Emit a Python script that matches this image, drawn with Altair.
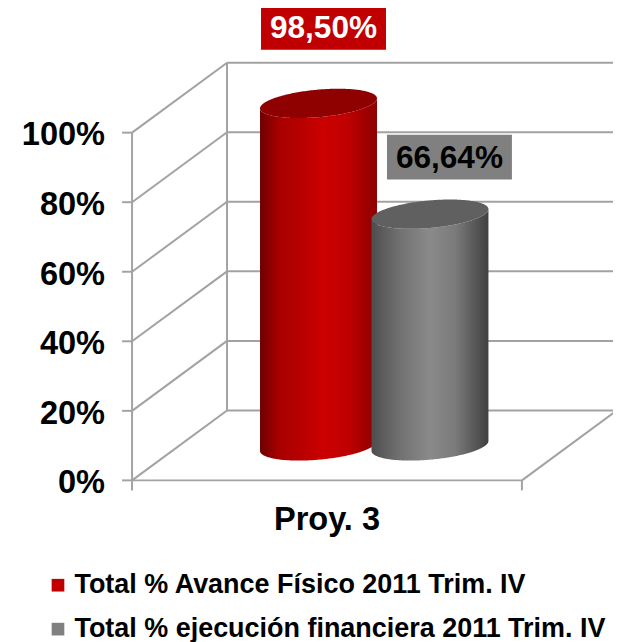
import altair as alt
import numpy as np
import pandas as pd

series = ["Total % Avance Físico 2011 Trim. IV", "Total % ejecución financiera 2011 Trim. IV"]
values = [98.50, 66.64]
value_labels = ["98,50%", "66,64%"]
category = "Proy. 3"
ticks = [0, 20, 40, 60, 80, 100]
tick_labels = ["0%", "20%", "40%", "60%", "80%", "100%"]
side_colors = ["#c00000", "#808080"]
top_colors = ["#8f0000", "#606060"]

W, H = 613, 634
SX, SY = (W + 16) / 621, (H + 16) / 642
FONT = "Liberation Sans"
PXU, PXP = 3.9, 3.48
def X(px): return (px - 132) / PXU
def Y(py): return (480 - py) / PXP
DX, DY = 95 / PXU, 70 / PXP
SHIFT = 3.5
xs = alt.Scale(domain=[X(8 / SX), X(621 / SX)], nice=False, zero=False)
ys = alt.Scale(domain=[Y(642 / SY + SHIFT), Y(8 / SY + SHIFT)], nice=False, zero=False)
ex = alt.X("x:Q", scale=xs, axis=None, title=None)
ey = alt.Y("y:Q", scale=ys, axis=None, title=None)

# frame
seg = []
for t in ticks:
    seg.append((0, t, DX, t + DY))
    seg.append((DX, t + DY, 100 + DX, t + DY))
    seg.append((X(122), t, 0, t))
seg += [(0, 0, 100, 0), (100, 0, 100 + DX, DY), (0, Y(490), 0, 100), (DX, DY, DX, 100 + DY), (100, Y(490), 100, 0)]
frame = alt.Chart(pd.DataFrame(seg, columns=["x", "y", "x2", "y2"])).mark_rule(color="#a2a2a2", strokeWidth=2).encode(
    x=ex, y=ey, x2="x2:Q", y2="y2:Q")

# cylinders
centers = [X(318.5), X(430.0)]
base = Y(445.5)
a, b, sk = 58.5 / PXU, 13.8 / PXP, 5 / PXP
th = np.linspace(0, np.pi, 121)
grads = [
    [("#6e0000", 0), ("#a80000", 0.16), ("#b80000", 0.35), ("#cc0000", 0.55), ("#c00000", 0.75), ("#8c0000", 1)],
    [("#4e4e4e", 0), ("#727272", 0.25), ("#8a8a8a", 0.5), ("#7a7a7a", 0.72), ("#404040", 1)],
]
layers = [frame]
for cx, v, g, top in zip(centers, values, grads, top_colors):
    u = -np.cos(th)
    xv = cx + a * u
    upper = b * np.sqrt(np.clip(1 - u ** 2, 0, 1))
    shear = sk * u
    d = pd.DataFrame({"x": xv, "y": base + v + shear - upper, "y2": base + shear - upper})
    d_top = pd.DataFrame({"x": xv, "y": base + v + shear + upper, "y2": base + v + shear - upper})
    grad = alt.LinearGradient(gradient="linear", stops=[alt.GradientStop(color=c, offset=o) for c, o in g], x1=0, x2=1, y1=0, y2=0)
    layers.append(alt.Chart(d).mark_area(color=grad, interpolate="linear").encode(x=ex, y=ey, y2="y2:Q"))
    layers.append(alt.Chart(d_top).mark_area(color=top, interpolate="linear").encode(x=ex, y=ey, y2="y2:Q"))

# value label boxes
boxes = pd.DataFrame({
    "x": [X(261), X(387)], "x2": [X(386), X(512)],
    "y": [Y(4), Y(134)], "y2": [Y(49), Y(179)],
    "c": side_colors,
})
layers.append(alt.Chart(boxes).mark_rect().encode(x=ex, y=ey, x2="x2:Q", y2="y2:Q", color=alt.Color("c:N", scale=None)))
vals = pd.DataFrame({"x": [X(323.5), X(449.5)], "y": [Y(27.5), Y(157.5)], "t": value_labels, "c": ["#ffffff", "#000000"]})
layers.append(alt.Chart(vals).mark_text(font=FONT, fontWeight="bold", fontSize=32, baseline="middle", align="center").encode(
    x=ex, y=ey, text="t:N", color=alt.Color("c:N", scale=None)))

# axis labels
yl = pd.DataFrame({"x": [X(105)] * 6, "y": ticks, "t": tick_labels})
layers.append(alt.Chart(yl).mark_text(font=FONT, fontWeight="bold", fontSize=33, baseline="middle", align="right", color="#000000", dy=3).encode(
    x=ex, y=ey, text="t:N"))
cl = pd.DataFrame({"x": [50], "y": [Y(520)], "t": [category]})
layers.append(alt.Chart(cl).mark_text(font=FONT, fontWeight="bold", fontSize=33, baseline="middle", align="center", color="#000000").encode(
    x=ex, y=ey, text="t:N"))

# legend
lg = pd.DataFrame({"x": [50, 50], "y": [50, 50], "s": series})
layers.append(alt.Chart(lg).mark_point(filled=True, shape="square", opacity=0).encode(
    x=ex, y=ey,
    color=alt.Color("s:N", scale=alt.Scale(domain=series, range=side_colors), sort=series, legend=alt.Legend(
        title=None, orient="none", legendX=37, legendY=567, symbolType="square", symbolSize=165, symbolOpacity=1,
        symbolStrokeWidth=0, labelFont=FONT, labelFontWeight="bold", labelFontSize=27.3, labelColor="#000000",
        labelLimit=620, rowPadding=16.5, labelOffset=3))))

chart = alt.layer(*layers).properties(width=W, height=H, padding=0, autosize=alt.AutoSizeParams(type="none"), background="#ffffff").configure_view(stroke=None)
chart.save("out.html", embed_options={"renderer": "svg", "actions": False})
